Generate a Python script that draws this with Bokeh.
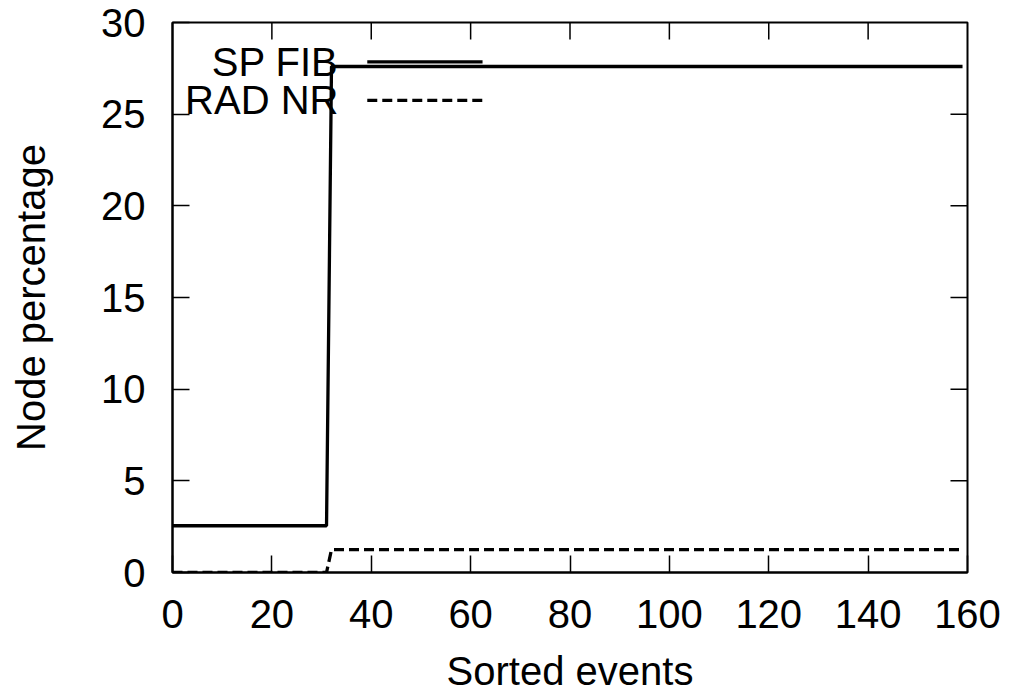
from bokeh.plotting import figure
from bokeh.models import Range1d, FixedTicker, Label
from bokeh.embed import file_html
from bokeh.resources import INLINE

# Data
events = [0, 31, 32, 159]
sp_fib = [2.55, 2.55, 27.6, 27.6]
rad_nr = [0.0, 0.0, 1.25, 1.25]

x_ticks = [0, 20, 40, 60, 80, 100, 120, 140, 160]
y_ticks = [0, 5, 10, 15, 20, 25, 30]
series_names = ["SP FIB", "RAD NR"]

FONT = "Liberation Sans"
FS = "40px"

X0, X1, Y0, Y1 = 0, 160, 0, 30
W, H = 1009, 695
BL, BR, BT, BB = 172, 42, 22, 122
TICK = 17  # px, inward

p = figure(width=W, height=H, output_backend="svg", toolbar_location=None,
           x_range=Range1d(X0, X1), y_range=Range1d(Y0, Y1),
           min_border_left=BL, min_border_right=BR, min_border_top=BT, min_border_bottom=BB)
p.grid.visible = False
p.outline_line_color = "black"
p.outline_line_width = 2
p.background_fill_color = "white"
p.border_fill_color = "white"

def style_axis(ax, ticks):
    ax.ticker = FixedTicker(ticks=ticks)
    ax.minor_tick_line_color = None
    ax.major_tick_in = TICK
    ax.major_tick_out = 0
    ax.major_tick_line_width = 1.5
    ax.major_tick_line_color = "black"
    ax.axis_line_color = "black"
    ax.axis_line_width = 2
    ax.major_label_text_font = FONT
    ax.major_label_text_color = "black"
    ax.major_label_text_font_size = FS
    ax.axis_label_text_font = FONT
    ax.axis_label_text_font_style = "normal"
    ax.axis_label_text_color = "black"
    ax.axis_label_text_font_size = FS

xa = p.xaxis[0]
style_axis(xa, x_ticks)
xa.axis_label = "Sorted events"
xa.major_label_standoff = 27
xa.axis_label_standoff = 18

ya = p.yaxis[0]
style_axis(ya, y_ticks)
ya.axis_label = "Node percentage"
ya.major_label_standoff = 27
ya.axis_label_standoff = 45

# Mirror ticks on top and right edges (gnuplot style)
fw = W - BL - BR
fh = H - BT - BB
dx = TICK * (X1 - X0) / fw
dy = TICK * (Y1 - Y0) / fh
inner_x = [t for t in x_ticks if X0 < t < X1]
inner_y = [t for t in y_ticks if Y0 < t < Y1]
p.segment(x0=inner_x, y0=[Y1] * len(inner_x), x1=inner_x, y1=[Y1 - dy] * len(inner_x),
          line_color="black", line_width=1.5)
p.segment(x0=[X1] * len(inner_y), y0=inner_y, x1=[X1 - dx] * len(inner_y), y1=inner_y,
          line_color="black", line_width=1.5)

# Series
p.line(events, sp_fib, line_color="black", line_width=3.3)
p.line(events, rad_nr, line_color="black", line_width=3.3, line_dash="10 5")

# Key (gnuplot style: text then sample)
key_y = [27.85, 25.75]
key_dash = ["solid", "10 5"]
for name, ky, dash in zip(series_names, key_y, key_dash):
    p.add_layout(Label(x=33.4, y=ky, text=name, text_align="right", text_baseline="middle",
                       text_font=FONT, text_font_size=FS, text_color="black"))
    p.line([39.2, 62.4], [ky, ky], line_color="black", line_width=3.3, line_dash=dash)

open("out.html", "w").write(file_html(p, INLINE))
